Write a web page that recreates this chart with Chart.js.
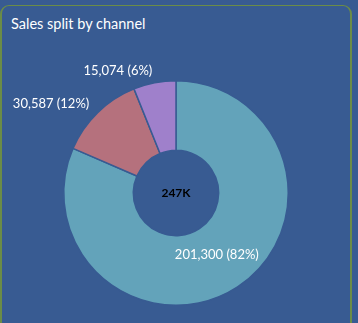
<!DOCTYPE html>
<html>
<head>
<meta charset="utf-8">
<script src="https://cdn.jsdelivr.net/npm/chart.js@4"></script>
<style>
  html, body { margin: 0; padding: 0; background: #385b92; overflow: hidden; }
  .card {
    position: absolute; left: 0; top: 5px; width: 352px; height: 330px;
    border: 1px solid #6b8c47; border-left-width: 2px; border-right-width: 2px; border-radius: 9px;
    box-sizing: border-box;
  }
  .titre {
    position: absolute; left: 9px; top: 9px;
    font: 14.5px Lato, sans-serif; color: #ffffff;
  }
  #canal { position: absolute; left: 0; top: 30px; }
</style>
</head>
<body>
<div class="card"><div class="titre">Sales split by channel</div></div>
<canvas id="canal" width="352" height="293"></canvas>
<script>
// Données
const canaux = ['Direct', 'Partner', 'Online'];
const ventes = [201300, 30587, 15074];
const couleurs = ['#63a3ba', '#b5717d', '#9f80cb'];
const totalLabel = '247K';

// Étiquettes valeur (pourcentage) + total au centre
const etiquettes = {
    id: 'etiquettes',
    afterDatasetsDraw(chart) {
        const ctx = chart.ctx;
        const total = ventes.reduce((a, b) => a + b, 0);
        const meta = chart.getDatasetMeta(0);
        ctx.save();
        ctx.font = '13px Lato, sans-serif';
        ctx.fillStyle = '#ffffff';
        ctx.textBaseline = 'middle';
        meta.data.forEach((arc, i) => {
            const p = arc.getProps(['x', 'y', 'startAngle', 'endAngle', 'innerRadius', 'outerRadius'], true);
            const mid = (p.startAngle + p.endAngle) / 2;
            const part = ventes[i] / total;
            const texte = ventes[i].toLocaleString('en-US') + ' (' + Math.round(part * 100) + '%)';
            let r, align;
            if (part > 0.2) {
                r = (p.innerRadius + p.outerRadius) / 2 - 3;
                align = 'center';
            } else {
                r = p.outerRadius + 12;
                align = Math.cos(mid) < 0 ? 'right' : 'left';
            }
            ctx.textAlign = align;
            ctx.fillText(texte, p.x + Math.cos(mid) * r, p.y + Math.sin(mid) * r);
        });
        const c = meta.data[0];
        ctx.font = 'bold 12px Lato, sans-serif';
        ctx.fillStyle = '#000000';
        ctx.textAlign = 'center';
        ctx.fillText(totalLabel, c.x, c.y);
        ctx.restore();
    }
};

new Chart(document.getElementById('canal').getContext('2d'), {
    type: 'doughnut',
    data: {
        labels: canaux,
        datasets: [{
            data: ventes,
            backgroundColor: couleurs,
            borderColor: '#385b92',
            borderWidth: 1.5
        }]
    },
    options: {
        responsive: false,
        animation: false,
        cutout: '38%',
        layout: { padding: { left: 63, right: 63, top: 50, bottom: 17 } },
        plugins: {
            legend: { display: false },
            tooltip: { enabled: false }
        }
    },
    plugins: [etiquettes]
});
</script>
</body>
</html>
